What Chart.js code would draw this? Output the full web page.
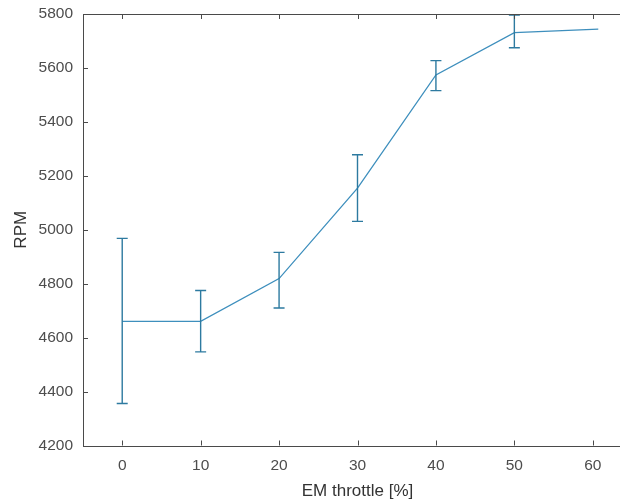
<!DOCTYPE html>
<html>
<head>
<meta charset="utf-8">
<script src="https://cdn.jsdelivr.net/npm/chart.js@4"></script>
<style>
  html, body { margin: 0; padding: 0; overflow: hidden; background: #fff; }
  #wrap { width: 632px; height: 502px; }
</style>
</head>
<body>
<div id="wrap"><canvas id="graficoRPM"></canvas></div>
<script>
// dados
const throttle = [0, 10, 20, 30, 40, 50, 60.7];
const rpmMedia = [4660, 4660, 4819, 5154, 5574, 5731, 5744];
const rpmMax   = [4968, 4775, 4916, 5278, 5627, 5796, null];
const rpmMin   = [4356, 4547, 4710, 5031, 5516, 5675, null];
const xTicks = [0, 10, 20, 30, 40, 50, 60];
const yTicks = [4200, 4400, 4600, 4800, 5000, 5200, 5400, 5600, 5800];

const corLinha = '#3e8fbd';
const corBarra = '#2d7aa0';
const corEixo = '#4a4a4a';
const corTexto = '#4d4d4d';
const fonte = "'Liberation Sans', Arial, sans-serif";

// caixa do eixo, ticks para dentro e barras de erro
const extras = {
  id: 'extras',
  afterDatasetsDraw(chart) {
    const ctx = chart.ctx;
    const a = chart.chartArea;
    const sx = chart.scales.x;
    const sy = chart.scales.y;
    ctx.save();

    // barras de erro
    ctx.strokeStyle = corBarra;
    ctx.lineWidth = 1.4;
    for (let i = 0; i < throttle.length; i++) {
      if (rpmMax[i] == null) continue;
      const px = sx.getPixelForValue(throttle[i]);
      const top = sy.getPixelForValue(rpmMax[i]);
      const bot = sy.getPixelForValue(rpmMin[i]);
      ctx.beginPath();
      ctx.moveTo(px, top); ctx.lineTo(px, bot);
      ctx.moveTo(px - 5.5, top); ctx.lineTo(px + 5.5, top);
      ctx.moveTo(px - 5.5, bot); ctx.lineTo(px + 5.5, bot);
      ctx.stroke();
    }

    // caixa
    ctx.strokeStyle = corEixo;
    ctx.lineWidth = 1;
    ctx.strokeRect(Math.round(a.left) + 0.5, Math.round(a.top) + 0.5,
      Math.round(a.right - a.left), Math.round(a.bottom - a.top));

    // ticks para dentro
    ctx.beginPath();
    xTicks.forEach(v => {
      const px = Math.round(sx.getPixelForValue(v)) + 0.5;
      ctx.moveTo(px, a.bottom); ctx.lineTo(px, a.bottom - 5);
      ctx.moveTo(px, a.top); ctx.lineTo(px, a.top + 5);
    });
    yTicks.forEach(v => {
      const py = Math.round(sy.getPixelForValue(v)) + 0.5;
      ctx.moveTo(a.left, py); ctx.lineTo(a.left + 5, py);
      ctx.moveTo(a.right, py); ctx.lineTo(a.right - 5, py);
    });
    ctx.stroke();
    ctx.restore();
  }
};

const ctx = document.getElementById('graficoRPM').getContext('2d');

new Chart(ctx, {
  type: 'line',
  data: {
    datasets: [{
      label: 'RPM',
      data: throttle.map((x, i) => ({ x: x, y: rpmMedia[i] })),
      borderColor: corLinha,
      borderWidth: 1.3,
      pointRadius: 0,
      tension: 0,
      fill: false
    }]
  },
  options: {
    responsive: true,
    maintainAspectRatio: false,
    animation: false,
    layout: { padding: { top: 14, right: 0, left: 0, bottom: 0 } },
    plugins: {
      legend: { display: false },
      tooltip: { enabled: false }
    },
    scales: {
      x: {
        type: 'linear',
        min: -5,
        max: 65,
        afterBuildTicks: s => { s.ticks = xTicks.map(v => ({ value: v })); },
        afterFit: s => { s.height = 56.5; s.paddingLeft = 0; s.paddingRight = 0; },
        grid: { display: false, drawTicks: false },
        border: { display: false },
        ticks: { color: corTexto, font: { family: fonte, size: 15.5 }, padding: 11, maxRotation: 0,
                 callback: v => String(v) },
        title: {
          display: true,
          text: 'EM throttle [%]',
          color: '#333',
          font: { family: fonte, size: 17 },
          padding: { top: 2, bottom: 0 }
        }
      },
      y: {
        min: 4200,
        max: 5800,
        afterBuildTicks: s => { s.ticks = yTicks.map(v => ({ value: v })); },
        afterFit: s => { s.width = 83; s.paddingTop = 0; s.paddingBottom = 0; },
        grid: { display: false, drawTicks: false },
        border: { display: false },
        ticks: { color: corTexto, font: { family: fonte, size: 15.5 }, padding: 10,
                 callback: v => String(v) },
        title: {
          display: true,
          text: 'RPM',
          color: '#333',
          font: { family: fonte, size: 17 },
          padding: { top: 11, bottom: 0 }
        }
      }
    }
  },
  plugins: [extras]
});
</script>
</body>
</html>
